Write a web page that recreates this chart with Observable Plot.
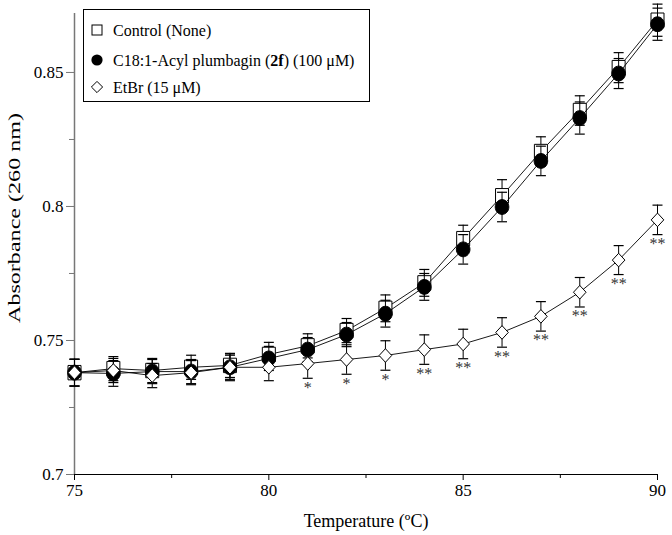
<!DOCTYPE html>
<html><head><meta charset="utf-8">
<script src="https://cdn.jsdelivr.net/npm/d3@7"></script>
<script src="https://cdn.jsdelivr.net/npm/@observablehq/plot@0.6"></script>
<style>
body{margin:0;background:#fff;}
#wrap{position:relative;width:672px;height:535px;}
#legend{position:absolute;left:0;top:0;pointer-events:none;}
</style></head>
<body><div id="wrap"></div>
<script>
const temps = [75, 76, 77, 78, 79, 80, 81, 82, 83, 84, 85, 86, 87, 88, 89, 90];
const control = [0.738, 0.7395, 0.7388, 0.740, 0.7407, 0.7448, 0.748, 0.7537, 0.762, 0.7715, 0.788, 0.804, 0.8205, 0.8358, 0.8518, 0.8695];
const controlErr = [0.005, 0.0045, 0.0045, 0.0045, 0.0045, 0.0045, 0.0045, 0.0045, 0.005, 0.005, 0.005, 0.006, 0.0055, 0.0055, 0.0056, 0.006];
const plumbagin = [0.738, 0.7377, 0.7384, 0.7384, 0.740, 0.7433, 0.7466, 0.7522, 0.760, 0.770, 0.784, 0.7998, 0.817, 0.833, 0.8496, 0.868];
const plumbaginErr = [0.005, 0.0048, 0.0045, 0.0045, 0.0045, 0.0045, 0.0045, 0.0045, 0.005, 0.005, 0.0055, 0.0055, 0.0055, 0.006, 0.0056, 0.006];
const etbr = [0.738, 0.7388, 0.7369, 0.738, 0.740, 0.740, 0.7414, 0.7429, 0.7444, 0.7466, 0.7487, 0.753, 0.759, 0.768, 0.780, 0.795];
const etbrErr = [0.005, 0.0045, 0.0045, 0.0045, 0.005, 0.005, 0.0055, 0.0055, 0.0055, 0.0055, 0.0055, 0.0055, 0.0055, 0.0055, 0.0054, 0.0055];
const etbrStars = ["", "", "", "", "", "", "*", "*", "*", "**", "**", "**", "**", "**", "**", "**"];
const seriesNames = ["Control (None)", "C18:1-Acyl plumbagin (2f) (100 \u03bcM)", "EtBr (15 \u03bcM)"];
const yTicks = [0.7, 0.75, 0.8, 0.85];
const yMinor = [0.725, 0.775, 0.825];
const xTicks = [75, 80, 85, 90];
const xMinor = [77.5, 82.5, 87.5];

const FONT = "'Liberation Serif', 'Times New Roman', serif";
const rows = (vals, errs) => temps.map((t, i) => ({T: t, v: vals[i], e: errs[i], star: etbrStars[i]}));
const C = rows(control, controlErr);
const P = rows(plumbagin, plumbaginErr);
const E = rows(etbr, etbrErr);

const capSym = {draw(ctx) { ctx.moveTo(-5, 0); ctx.lineTo(5, 0); }};
const squareSym = {draw(ctx) { const w = 6.5, h = 7.2; ctx.moveTo(-w, -h); ctx.lineTo(w, -h); ctx.lineTo(w, h); ctx.lineTo(-w, h); ctx.closePath(); }};
const diamondSym = {draw(ctx) { const w = 6.3, h = 6.8; ctx.moveTo(0, -h); ctx.lineTo(w, 0); ctx.lineTo(0, h); ctx.lineTo(-w, 0); ctx.closePath(); }};
const ellipseSym = {draw(ctx) {
  const a = 6.8, b = 7.4, k = 0.5523;
  ctx.moveTo(a, 0);
  ctx.bezierCurveTo(a, k * b, k * a, b, 0, b);
  ctx.bezierCurveTo(-k * a, b, -a, k * b, -a, 0);
  ctx.bezierCurveTo(-a, -k * b, -k * a, -b, 0, -b);
  ctx.bezierCurveTo(k * a, -b, a, -k * b, a, 0);
  ctx.closePath();
}};

function seriesMarks(data, sym, fill) {
  return [
    Plot.ruleX(data, {x: "T", y1: d => d.v - d.e, y2: d => d.v + d.e, stroke: "#000", strokeWidth: 1}),
    Plot.dot(data, {x: "T", y: d => d.v + d.e, symbol: capSym, r: 4, stroke: "#000", fill: "none", strokeWidth: 1.2}),
    Plot.dot(data, {x: "T", y: d => d.v - d.e, symbol: capSym, r: 4, stroke: "#000", fill: "none", strokeWidth: 1.2}),
    Plot.line(data, {x: "T", y: "v", stroke: "#000", strokeWidth: 0.9}),
    Plot.dot(data, {x: "T", y: "v", symbol: sym, r: 5, fill: fill, stroke: "#000", strokeWidth: 1})
  ];
}

const chart = Plot.plot({
  width: 672, height: 535,
  marginLeft: 74, marginRight: 15, marginTop: 13, marginBottom: 61,
  style: {fontFamily: FONT, fontSize: "17px", color: "#000", background: "#fff", overflow: "visible"},
  x: {domain: [75, 90]},
  y: {domain: [0.7, 0.872]},
  marks: [
    Plot.axisY({ticks: yTicks, tickFormat: d => String(d), tickSize: 8, tickPadding: 3, stroke: "#777", label: "Absorbance (260 nm)", labelAnchor: "center", labelOffset: 66, labelArrow: "none"}),
    Plot.axisY({ticks: yMinor, tickFormat: () => "", tickSize: 5, stroke: "#777", label: null}),
    Plot.axisX({ticks: xTicks, tickFormat: d => String(d), tickSize: 6, tickPadding: 3, stroke: "#000", label: "Temperature (\u00baC)", labelAnchor: "center", labelOffset: 52, labelArrow: "none"}),
    Plot.axisX({ticks: xMinor, tickFormat: () => "", tickSize: 4, stroke: "#000", label: null}),
    Plot.ruleX([75], {stroke: "#777", strokeWidth: 1.5}),
    Plot.ruleY([0.7], {stroke: "#000", strokeWidth: 1.2}),
    ...seriesMarks(C, squareSym, "#fff"),
    ...seriesMarks(P, ellipseSym, "#000"),
    ...seriesMarks(E, diamondSym, "#fff"),
    Plot.text(E, {x: "T", y: d => d.v - d.e, text: "star", lineAnchor: "top", dy: 3, fontSize: 16, fill: "#333"})
  ]
});
document.getElementById("wrap").appendChild(chart);

// stretch the y-axis label like the reference and lift it a little
const yl = chart.querySelector('[aria-label="y-axis label"] text');
if (yl) {
  yl.setAttribute("textLength", "210");
  yl.setAttribute("lengthAdjust", "spacingAndGlyphs");
  yl.style.fontSize = "16px";
  const t = yl.getAttribute("transform") || "";
  yl.setAttribute("transform", (t + " translate(26,0)").trim());
}
const xl = chart.querySelector('[aria-label="x-axis label"] text');
if (xl) xl.style.fontSize = "18px";

// legend overlay (SVG, same text rendering as the chart)
const lg = d3.select("#wrap").append("svg")
  .attr("id", "legend").attr("width", 672).attr("height", 535)
  .style("font-family", FONT).style("font-size", "16px");
const box = {x: 83.5, y: 9.5, w: 286, h: 92};
lg.append("rect").attr("x", box.x).attr("y", box.y).attr("width", box.w).attr("height", box.h)
  .attr("fill", "#fff").attr("stroke", "#000").attr("stroke-width", 1);
const rowY = [30, 60, 87];
const mx = 97;
seriesNames.forEach((name, i) => {
  const y = rowY[i];
  if (i === 0) lg.append("rect").attr("x", mx - 5).attr("y", y - 5).attr("width", 10).attr("height", 10).attr("fill", "#fff").attr("stroke", "#000");
  if (i === 1) lg.append("circle").attr("cx", mx).attr("cy", y).attr("r", 5.6).attr("fill", "#000");
  if (i === 2) lg.append("path").attr("d", `M${mx},${y - 5.6}L${mx + 5.6},${y}L${mx},${y + 5.6}L${mx - 5.6},${y}Z`).attr("fill", "#fff").attr("stroke", "#000");
  const t = lg.append("text").attr("x", 113).attr("y", y).attr("dy", "0.35em").attr("fill", "#000");
  if (i === 1) {
    const parts = name.split("2f");
    t.append("tspan").text(parts[0]);
    t.append("tspan").attr("font-weight", "bold").text("2f");
    t.append("tspan").text(parts[1]);
  } else {
    t.text(name);
  }
});
</script>
</body></html>
